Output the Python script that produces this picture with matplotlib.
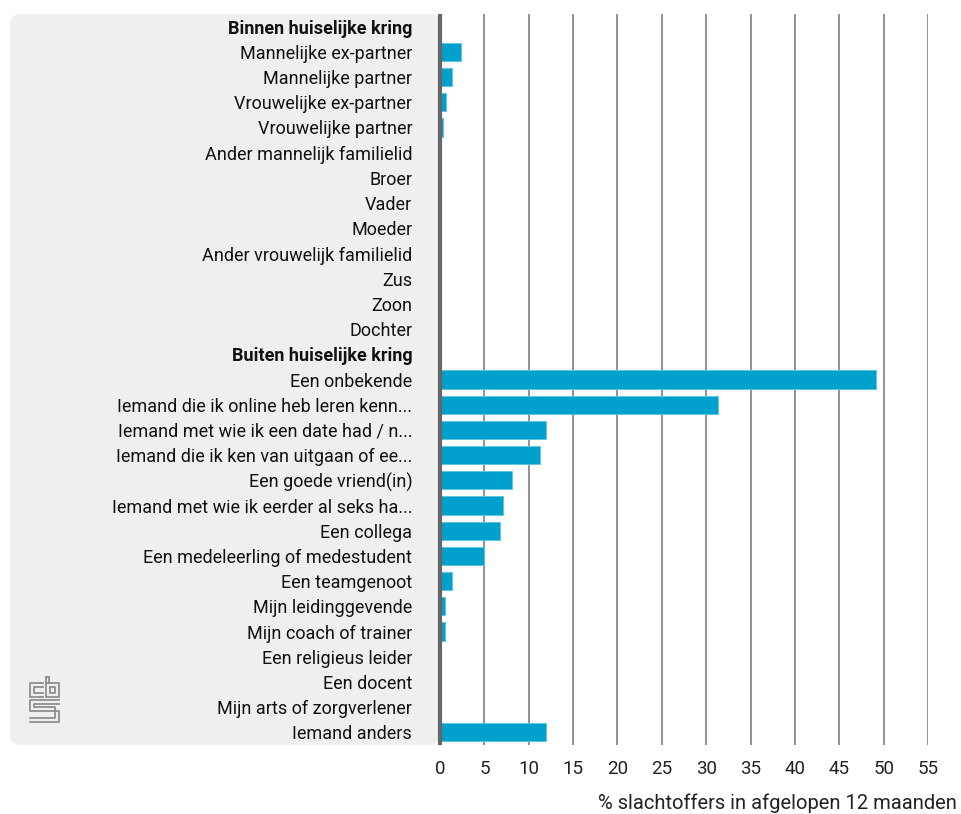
import numpy as np
import matplotlib.pyplot as plt
from matplotlib.patches import FancyBboxPatch

labels = ["Binnen huiselijke kring", "Mannelijke ex-partner", "Mannelijke partner",
          "Vrouwelijke ex-partner", "Vrouwelijke partner", "Ander mannelijk familielid",
          "Broer", "Vader", "Moeder", "Ander vrouwelijk familielid", "Zus", "Zoon",
          "Dochter", "Buiten huiselijke kring", "Een onbekende",
          "Iemand die ik online heb leren kenn...", "Iemand met wie ik een date had / n...",
          "Iemand die ik ken van uitgaan of ee...", "Een goede vriend(in)",
          "Iemand met wie ik eerder al seks ha...", "Een collega",
          "Een medeleerling of medestudent", "Een teamgenoot", "Mijn leidinggevende",
          "Mijn coach of trainer", "Een religieus leider", "Een docent",
          "Mijn arts of zorgverlener", "Iemand anders"]
values = [0, 2.4, 1.3, 0.7, 0.3, 0.1, 0, 0, 0, 0, 0, 0, 0,
          0, 49.1, 31.3, 11.9, 11.3, 8.1, 7.1, 6.8, 5.0, 1.3, 0.6, 0.6, 0.1, 0.1, 0, 11.9]
headers = ["Binnen huiselijke kring", "Buiten huiselijke kring"]
xticks = list(range(0, 60, 5))

plt.rcParams['font.family'] = ['Roboto', 'DejaVu Sans']
fs = 13

W, H = 961, 814
fig = plt.figure(figsize=(W / 100, H / 100), dpi=100)

# grey panel behind the labels
panel = FancyBboxPatch((10 / W, 1 - 745 / H), 430 / W, (745 - 14) / H,
                       boxstyle="round,pad=0,rounding_size=0.012",
                       transform=fig.transFigure, facecolor="#efefef",
                       edgecolor="none", zorder=0)
fig.patches.append(panel)

ax = fig.add_axes([440 / W, 1 - 745 / H, (928 - 440) / W, (745 - 14) / H])
ax.set_facecolor("none")
ax.set_zorder(2)

y = np.arange(len(labels))
ax.barh(y, values, height=0.72, color="#00a1cd", edgecolor="#5cc4e2",
        linewidth=0.6, zorder=3)
ax.set_ylim(len(labels) - 0.5, -0.5)
ax.set_xlim(0, 55)
ax.set_xticks(xticks)
ax.set_xticklabels([str(t) for t in xticks], fontsize=13.5, color="#222222")
ax.tick_params(axis="x", length=0, pad=11)
ax.grid(axis="x", color="#8a8a8a", linewidth=1.3, zorder=1)

ax.set_yticks(y)
ax.set_yticklabels(labels, fontsize=fs, color="#111111")
ax.tick_params(axis="y", length=0, pad=20)
for t in ax.get_yticklabels():
    if t.get_text() in headers:
        t.set_fontweight("bold")

for s in ["top", "right", "bottom"]:
    ax.spines[s].set_visible(False)
ax.spines["left"].set_color("#666666")
ax.spines["left"].set_linewidth(3)
ax.spines["left"].set_capstyle("butt")
ax.spines["left"].set_zorder(4)

fig.text(957 / W, 1 - 803 / H, "% slachtoffers in afgelopen 12 maanden",
         ha="right", va="center", fontsize=14.5, color="#222222")

# simplified cbs logo
def px(xs, ys):
    return [x / W for x in xs], [1 - v / H for v in ys]

lc = "#8f8f8f"
paths = [
    ([43, 30, 30, 43], [683, 683, 697, 697]),
    ([43, 34, 34, 43], [687, 687, 693, 693]),
    ([46, 46, 59, 59, 46], [677, 697, 697, 683, 683]),
    ([50, 50, 55, 55, 50], [687, 693, 693, 687, 687]),
    ([49, 49], [677, 683]),
    ([46, 49], [677, 677]),
    ([59, 30, 30, 59, 59, 30], [700, 700, 711, 711, 722, 722]),
    ([59, 34, 34, 55, 55, 30], [704, 704, 707, 707, 718, 718]),
]
for xs, ys in paths:
    fx, fy = px(xs, ys)
    fig.add_artist(plt.Line2D(fx, fy, color=lc, linewidth=1.3,
                              transform=fig.transFigure))

plt.savefig("out.png", dpi=100)
